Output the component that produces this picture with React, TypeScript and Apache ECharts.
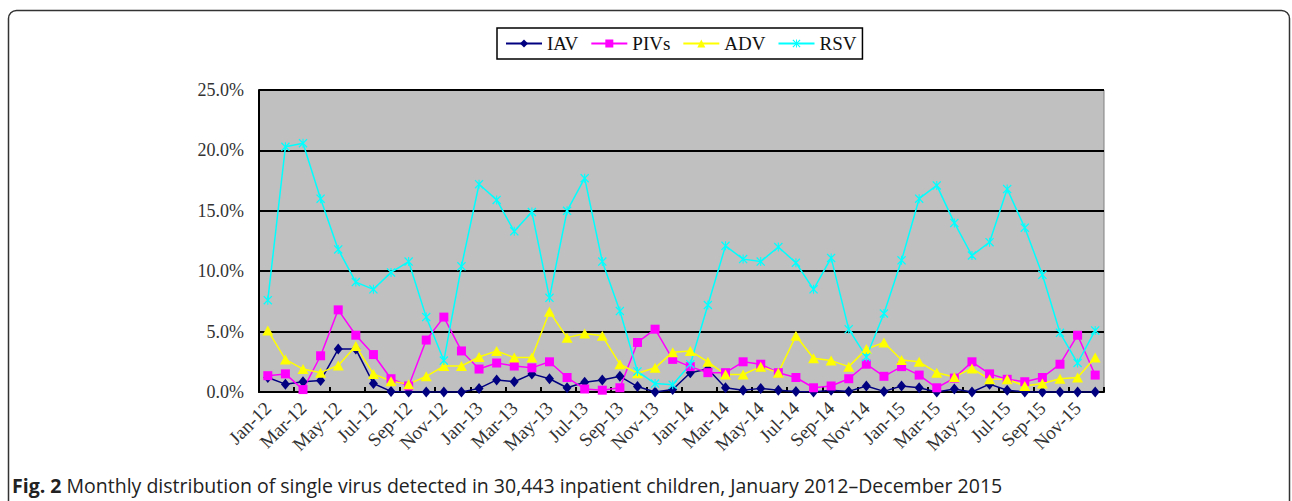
import React, { useEffect, useRef } from "react";
import * as echarts from "echarts";

const categories = [
  "Jan-12","Feb-12","Mar-12","Apr-12","May-12","Jun-12","Jul-12","Aug-12","Sep-12","Oct-12","Nov-12","Dec-12",
  "Jan-13","Feb-13","Mar-13","Apr-13","May-13","Jun-13","Jul-13","Aug-13","Sep-13","Oct-13","Nov-13","Dec-13",
  "Jan-14","Feb-14","Mar-14","Apr-14","May-14","Jun-14","Jul-14","Aug-14","Sep-14","Oct-14","Nov-14","Dec-14",
  "Jan-15","Feb-15","Mar-15","Apr-15","May-15","Jun-15","Jul-15","Aug-15","Sep-15","Oct-15","Nov-15","Dec-15",
];

const iav = [
  1.2, 0.65, 0.85, 0.95, 3.55, 3.55, 0.7, 0.05, 0, 0, 0, 0,
  0.3, 1.0, 0.85, 1.5, 1.1, 0.35, 0.8, 1.0, 1.3, 0.45, 0, 0.2,
  1.6, 1.9, 0.35, 0.15, 0.3, 0.15, 0.05, 0, 0.15, 0.05, 0.5, 0.05,
  0.5, 0.35, 0, 0.25, 0, 0.65, 0.15, 0, 0, 0, 0, 0,
];

const pivs = [
  1.35, 1.5, 0.2, 3.0, 6.8, 4.7, 3.1, 1.1, 0.5, 4.3, 6.2, 3.4,
  1.9, 2.4, 2.15, 2.0, 2.5, 1.2, 0.25, 0.15, 0.35, 4.1, 5.2, 2.7,
  2.1, 1.6, 1.6, 2.5, 2.3, 1.6, 1.2, 0.35, 0.5, 1.1, 2.3, 1.3,
  2.1, 1.4, 0.35, 1.15, 2.5, 1.5, 1.05, 0.85, 1.2, 2.3, 4.7, 1.4,
];

const adv = [
  5.1, 2.7, 1.9, 1.6, 2.2, 3.8, 1.5, 0.9, 0.65, 1.3, 2.15, 2.15,
  2.9, 3.4, 2.85, 2.85, 6.65, 4.5, 4.85, 4.65, 2.3, 1.55, 2.0, 3.3,
  3.4, 2.5, 1.45, 1.45, 2.1, 1.6, 4.65, 2.8, 2.6, 2.1, 3.55, 4.1,
  2.65, 2.5, 1.6, 1.25, 1.95, 1.05, 1.05, 0.5, 0.7, 1.1, 1.2, 2.85,
];

const rsv = [
  7.6, 20.3, 20.6, 16.0, 11.8, 9.1, 8.5, 9.9, 10.8, 6.2, 2.6, 10.4,
  17.2, 15.9, 13.3, 14.9, 7.8, 15.0, 17.7, 10.8, 6.7, 1.7, 0.7, 0.6,
  2.3, 7.2, 12.1, 11.0, 10.8, 12.0, 10.7, 8.5, 11.1, 5.2, 2.9, 6.5,
  10.9, 16.0, 17.1, 14.0, 11.3, 12.4, 16.8, 13.6, 9.7, 4.9, 2.4, 5.1,
];

const seriesNames = ["IAV", "PIVs", "ADV", "RSV"];
const captionBold = "Fig. 2";
const captionText =
  " Monthly distribution of single virus detected in 30,443 inpatient children, January 2012\u2013December 2015";

const starPath =
  "path://M0,1L1,0L5,4L9,0L10,1L6,5L10,9L9,10L5,6L1,10L0,9L4,5Z M4.4,0L5.6,0L5.6,10L4.4,10Z";

export default function App() {
  const ref = useRef<HTMLDivElement>(null);

  useEffect(() => {
    document.body.style.margin = "0";
    if (!ref.current) return;
    const chart = echarts.init(ref.current, null, { renderer: "svg" });
    const axisFont = "Liberation Serif";
    const mk = (
      name: string,
      data: number[],
      color: string,
      symbol: string,
      symbolSize: number | number[]
    ) => ({
      name,
      type: "line",
      data,
      symbol,
      symbolSize,
      showSymbol: true,
      lineStyle: { color, width: 1.5 },
      itemStyle: { color },
      emphasis: { disabled: true },
    });

    chart.setOption({
      animation: false,
      grid: {
        left: 259,
        right: 188,
        top: 90,
        bottom: 109,
        show: true,
        backgroundColor: "#C0C0C0",
        borderColor: "#808080",
        borderWidth: 1,
      },
      legend: {
        left: 497,
        top: 28,
        padding: [6, 6, 6, 8],
        itemGap: 12,
        itemWidth: 36,
        itemHeight: 10,
        borderColor: "#000",
        borderWidth: 1.5,
        textStyle: { fontFamily: axisFont, fontSize: 19, color: "#111" },
        data: seriesNames,
      },
      xAxis: {
        type: "category",
        data: categories,
        boundaryGap: true,
        axisLine: { lineStyle: { color: "#000", width: 2 } },
        axisTick: {
          show: true,
          inside: true,
          interval: 1,
          length: 5,
          lineStyle: { color: "#000", width: 2 },
        },
        axisLabel: {
          interval: 1,
          rotate: 45,
          margin: 13,
          fontFamily: axisFont,
          fontSize: 19,
          color: "#333",
        },
      },
      yAxis: {
        type: "value",
        min: 0,
        max: 25,
        interval: 5,
        axisLine: { show: true, lineStyle: { color: "#000", width: 2 } },
        axisTick: { show: false },
        splitLine: { lineStyle: { color: "#000", width: 2 } },
        axisLabel: {
          margin: 15,
          fontFamily: axisFont,
          fontSize: 18,
          color: "#333",
          formatter: (v: number) => v.toFixed(1) + "%",
        },
      },
      series: [
        mk("IAV", iav, "#000080", "diamond", [9, 11]),
        mk("PIVs", pivs, "#FF00FF", "rect", 9),
        mk("ADV", adv, "#FFFF00", "triangle", [11, 10]),
        mk("RSV", rsv, "#00FFFF", starPath, 9),
      ],
      graphic: [
        {
          type: "rect",
          shape: { x: 8.5, y: 10.5, width: 1281, height: 600, r: 8 },
          style: { fill: "none", stroke: "#333", lineWidth: 1.5 },
          silent: true,
        },
        {
          type: "text",
          x: 12,
          y: 485,
          scaleX: 1.0,
          style: {
            text: "{b|" + captionBold + "}{n|" + captionText + "}",
            verticalAlign: "middle",
            rich: {
              b: { fontFamily: "Open Sans", fontWeight: "bold", fontSize: 19.5, fill: "#222" },
              n: { fontFamily: "Open Sans", fontSize: 19.5, fill: "#222" },
            },
          },
          silent: true,
        },
      ],
    });
    return () => chart.dispose();
  }, []);

  return <div ref={ref} style={{ width: 1292, height: 501 }} />;
}
